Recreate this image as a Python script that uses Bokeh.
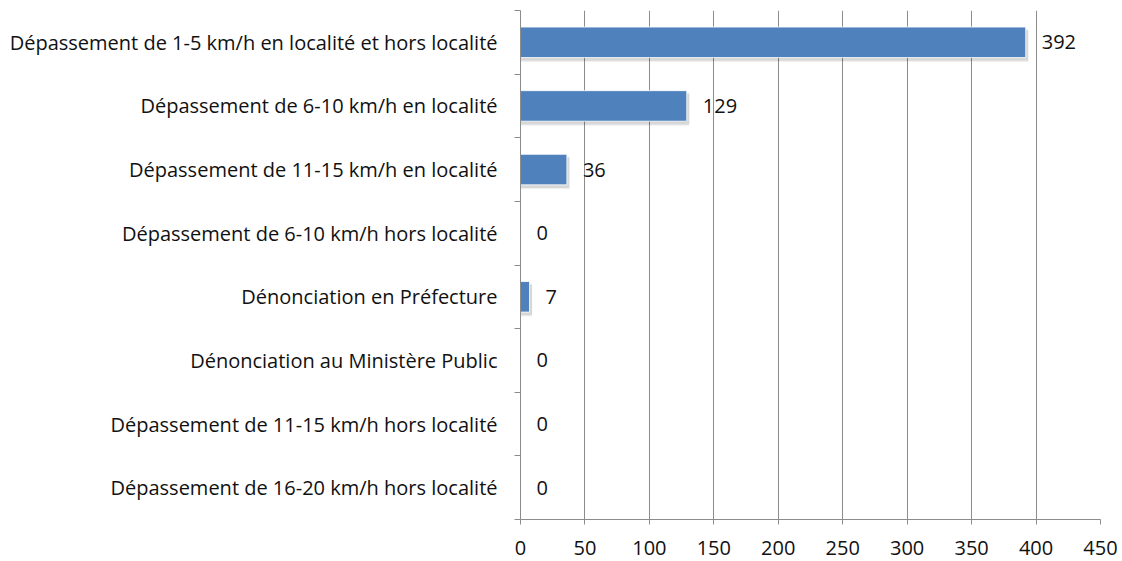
from bokeh.plotting import figure
from bokeh.models import FixedTicker, ColumnDataSource, Range1d
from bokeh.core.properties import value
from bokeh.embed import file_html
from bokeh.resources import INLINE

categories = [
    "Dépassement de 1-5 km/h en localité et hors localité",
    "Dépassement de 6-10 km/h en localité",
    "Dépassement de 11-15 km/h en localité",
    "Dépassement de 6-10 km/h hors localité",
    "Dénonciation en Préfecture",
    "Dénonciation au Ministère Public",
    "Dépassement de 11-15 km/h hors localité",
    "Dépassement de 16-20 km/h hors localité",
]
values = [392, 129, 36, 0, 7, 0, 0, 0]
x_ticks = [0, 50, 100, 150, 200, 250, 300, 350, 400, 450]

n = len(categories)
ypos = [n - i for i in range(n)]
FONT = "Open Sans"
FS = "20px"
GRID = "#8c8c8c"

src = ColumnDataSource(dict(y=ypos, v=values, lbl=[str(v) for v in values],
                            ys=[y - 0.05 for y in ypos],
                            vs=[v + 2.0 if v > 0 else 0 for v in values]))

p = figure(width=1122, height=561, output_backend="svg", toolbar_location=None,
           x_range=Range1d(0, 450), y_range=Range1d(0.5, n + 0.5),
           min_border_left=520, min_border_right=22, min_border_top=10, min_border_bottom=42)
p.outline_line_color = None
p.background_fill_color = "white"

# soft shadow
p.hbar(y="ys", left=0, right="vs", height=0.52, source=src, fill_color="#000000",
       fill_alpha=0.06, line_color=None)
p.hbar(y="ys", left=0, right="vs", height=0.48, source=src, fill_color="#000000",
       fill_alpha=0.1, line_color=None)
p.hbar(y="y", left=0, right="v", height=0.48, source=src, fill_color="#4F81BD",
       line_color="#ffffff", line_width=1, line_alpha=0.8)

p.text(x="v", y="y", text="lbl", source=src, x_offset=16, text_align="left",
       text_baseline="middle", text_font=value(FONT), text_font_size=FS, text_color="#111111")

p.xaxis.ticker = FixedTicker(ticks=x_ticks)
p.xaxis.axis_line_color = GRID
p.xaxis.major_tick_line_color = GRID
p.xaxis.major_tick_in = 0
p.xaxis.major_tick_out = 5
p.xaxis.minor_tick_line_color = None
p.xaxis.major_label_text_font = FONT
p.xaxis.major_label_text_font_size = FS
p.xaxis.major_label_text_color = "#111111"
p.xaxis.major_label_standoff = 16

p.yaxis.ticker = FixedTicker(ticks=ypos, minor_ticks=[i + 0.5 for i in range(n + 1)])
p.yaxis.major_label_overrides = {y: c for y, c in zip(ypos, categories)}
p.yaxis.axis_line_color = GRID
p.yaxis.major_tick_line_color = None
p.yaxis.major_tick_in = 0
p.yaxis.major_tick_out = 0
p.yaxis.minor_tick_line_color = GRID
p.yaxis.minor_tick_in = 0
p.yaxis.minor_tick_out = 6
p.yaxis.major_label_text_font = FONT
p.yaxis.major_label_text_font_size = FS
p.yaxis.major_label_text_color = "#111111"
p.yaxis.major_label_standoff = 17

p.ygrid.grid_line_color = None
p.xgrid.ticker = FixedTicker(ticks=x_ticks[1:])
p.xgrid.grid_line_color = GRID
p.xgrid.grid_line_width = 1

open("out.html", "w").write(file_html(p, INLINE))
